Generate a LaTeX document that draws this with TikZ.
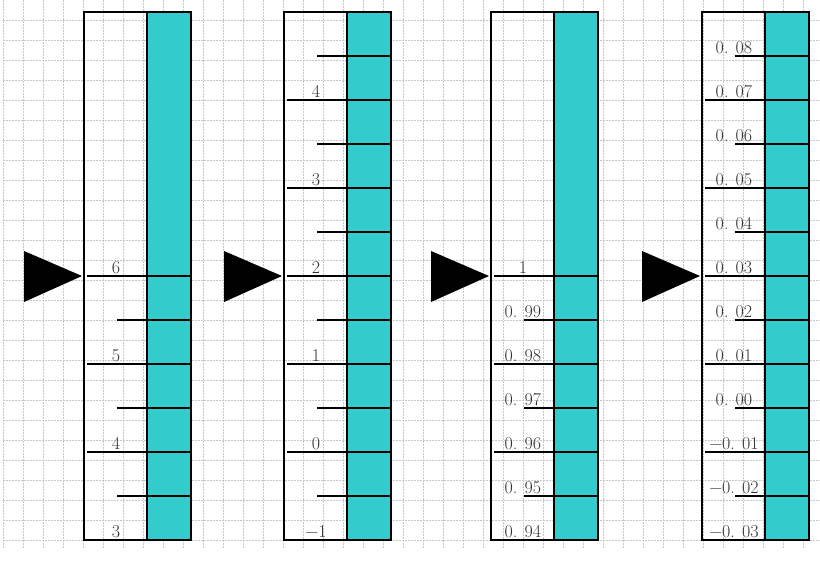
\documentclass[tikz,border=0pt]{standalone}
\usepackage{tikz}
\definecolor{scaleteal}{RGB}{51,204,204}
\begin{document}
\begin{tikzpicture}[x=1pt, y=-1pt,
    gridline/.style={black!22, dash pattern=on 1.5pt off 1.5pt, line width=0.6pt},
    frame/.style={line width=1.6pt},
    divider/.style={line width=2.8pt},
    tickline/.style={line width=1.6pt},
    ticklabel/.style={anchor=base, inner sep=0pt, text=black!80,
      font=\fontsize{18}{18}\selectfont},
    pointer/.style={fill=black}]
    \useasboundingbox (0,0) rectangle (820,568);

    % background grid
    \foreach \x in {3,23,...,803} \draw[gridline] (\x,0) -- (\x,548);
    \foreach \y in {20,40,...,540} \draw[gridline] (3,\y) -- (820,\y);

    % one scale: #1 left edge, #2 first teal line, #3 list k/label
    \newcommand{\scalebar}[4]{%
      \fill[scaleteal] (#1+63,12) rectangle (#1+107,540);
      \foreach \k in {#2,...,11} {
        \pgfmathsetmacro{\ty}{12+44*\k}
        \pgfmathsetmacro{\tx}{isodd(\k) ? #1+33 : #1+3}
        \draw[tickline] (\tx,\ty) -- (#1+107,\ty);
      }
      \draw[frame] (#1,12) rectangle (#1+107,540);
      \draw[divider] (#1+63,12) -- (#1+63,540);
      \foreach \k/\t [count=\n] in {#3} {
        \node[ticklabel] (#4\n) at (#1+32,{9+44*\k}) {\t};
      }
      \fill[pointer] (#1-60,251) -- (#1-2,276) -- (#1-60,302) -- cycle;
    }

    \scalebar{84}{6}{6/6, 8/5, 10/4, 12/3}{a}
    \scalebar{284}{1}{2/4, 4/3, 6/2, 8/1, 10/0, 12/−1}{b}
    \scalebar{491}{6}{6/1, 7/0. 99, 8/0. 98, 9/0. 97, 10/0. 96, 11/0. 95, 12/0. 94}{c}
    \scalebar{702}{1}{1/0. 08, 2/0. 07, 3/0. 06, 4/0. 05, 5/0. 04, 6/0. 03,
      7/0. 02, 8/0. 01, 9/0. 00, 10/−0. 01, 11/−0. 02, 12/−0. 03}{d}
  \end{tikzpicture}
\end{document}
